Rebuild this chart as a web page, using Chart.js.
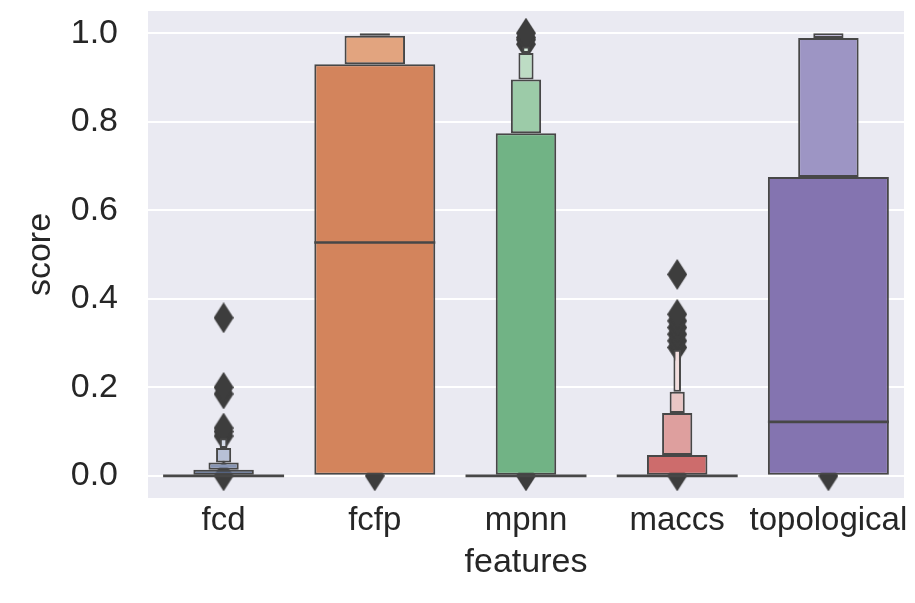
<!DOCTYPE html>
<html>
<head>
<meta charset="utf-8">
<script src="https://cdn.jsdelivr.net/npm/chart.js@4.4.1/dist/chart.umd.min.js"></script>
<style>
  html, body { margin: 0; padding: 0; background: #fff; }
  canvas { display: block; }
</style>
</head>
<body>
<canvas id="boxenChart" width="915" height="603"></canvas>
<script>
// values
var features = ['fcd', 'fcfp', 'mpnn', 'maccs', 'topological'];
var medians = [0, 0.527, 0, 0, 0.122];
var level1 = [null, [0, 0.93], null, null, [0, 0.675]];
var level2 = [[0, 0.014], [0.93, 0.994], [0, 0.774], [0, 0.047], [0.675, 0.989]];
var level3 = [[0.014, 0.03], [0.994, 1.0], [0.774, 0.895], [0.047, 0.142], [0.989, 1.0]];
var level4 = [[0.03, 0.063], null, [0.895, 0.955], [0.142, 0.19], null];
var level5 = [[0.063, 0.085], null, [0.955, 0.97], [0.19, 0.285], null];
var outliers = [
    [0, 0.09, 0.1, 0.108, 0.185, 0.2, 0.357],
    [0],
    [0, 0.975, 0.985, 0.99, 1.0],
    [0, 0.29, 0.305, 0.32, 0.335, 0.35, 0.365, 0.455],
    [0]
];
var yTicks = [0, 0.2, 0.4, 0.6, 0.8, 1.0];

// colours, darkest level first
var level1Colors = ['#5d6f95', '#d3845c', '#71b385', '#cd6c6c', '#8474b0'];
var level2Colors = ['#5d6f95', '#e2a47f', '#71b385', '#cd6c6c', '#9d95c4'];
var level3Colors = ['#8795b4', '#ebc0a6', '#9ccba8', '#de9f9e', '#bcb5d8'];
var level4Colors = ['#b7c0d6', '#f2d9ca', '#bddcc4', '#e9c6c5', '#d6d2e8'];
var level5Colors = ['#d5dbe8', '#f7e9e0', '#d6eadb', '#f2dede', '#e8e6f2'];
var edge = '#474747';
var font = 'Liberation Sans, Arial, sans-serif';

// thin diamond marker like matplotlib 'd'
var diamond = document.createElement('canvas');
diamond.width = 20;
diamond.height = 31;
var dc = diamond.getContext('2d');
dc.fillStyle = '#3d3d3d';
dc.beginPath();
dc.moveTo(10, 0);
dc.lineTo(20, 15.5);
dc.lineTo(10, 31);
dc.lineTo(0, 15.5);
dc.closePath();
dc.fill();

function levelSet(data, colors, width, order) {
    return {
        type: 'bar',
        data: data,
        backgroundColor: colors,
        borderColor: edge,
        borderWidth: 2,
        borderSkipped: false,
        barPercentage: width,
        categoryPercentage: 1,
        grouped: false,
        order: order
    };
}

var outlierPoints = [];
features.forEach(function(f, i) {
    outliers[i].forEach(function(v) {
        outlierPoints.push({ x: f, y: v });
    });
});

var plotBackground = {
    id: 'plotBackground',
    beforeDraw: function(chart) {
        var a = chart.chartArea;
        var c = chart.ctx;
        c.save();
        c.fillStyle = '#eaeaf2';
        c.fillRect(a.left, a.top, a.right - a.left, a.bottom - a.top);
        c.restore();
    }
};

var ctx = document.getElementById('boxenChart').getContext('2d');
var boxenChart = new Chart(ctx, {
    type: 'bar',
    data: {
        labels: features,
        datasets: [
            {
                type: 'scatter',
                data: outlierPoints,
                pointStyle: diamond,
                pointRadius: 10,
                order: 10
            },
            levelSet(level1, level1Colors, 0.8, 6),
            levelSet(level2, level2Colors, 0.4, 5),
            levelSet(level3, level3Colors, 0.2, 4),
            levelSet(level4, level4Colors, 0.1, 3),
            levelSet(level5, level5Colors, 0.05, 2),
            {
                type: 'bar',
                data: medians.map(function(m) { return [m - 0.003, m + 0.003]; }),
                backgroundColor: edge,
                borderWidth: 0,
                barPercentage: 0.8,
                categoryPercentage: 1,
                grouped: false,
                order: 0
            }
        ]
    },
    options: {
        responsive: false,
        animation: false,
        layout: { padding: { top: 11, right: 10, left: 0, bottom: 0 } },
        plugins: {
            legend: { display: false },
            tooltip: { enabled: false }
        },
        scales: {
            x: {
                type: 'category',
                offset: true,
                grid: { display: false, drawTicks: false },
                border: { display: false },
                ticks: {
                    color: '#262626',
                    padding: 3,
                    autoSkip: false,
                    maxRotation: 0,
                    font: { family: font, size: 33 }
                },
                title: {
                    display: true,
                    text: 'features',
                    color: '#262626',
                    padding: { top: 0, bottom: 20 },
                    font: { family: font, size: 34 }
                },
                afterFit: function(scale) {
                    scale.height = 105;
                    scale.paddingLeft = 0;
                    scale.paddingRight = 0;
                }
            },
            y: {
                min: -0.05,
                max: 1.05,
                grid: { color: '#ffffff', lineWidth: 2, drawTicks: false },
                border: { display: false },
                afterBuildTicks: function(scale) {
                    scale.ticks = yTicks.map(function(v) { return { value: v }; });
                },
                ticks: {
                    color: '#262626',
                    padding: 30,
                    font: { family: font, size: 34 },
                    callback: function(v) { return Number(v).toFixed(1); }
                },
                title: {
                    display: true,
                    text: 'score',
                    color: '#262626',
                    padding: { top: 20, bottom: 0 },
                    font: { family: font, size: 34 }
                },
                afterFit: function(scale) {
                    scale.width = 148;
                    scale.paddingTop = 0;
                    scale.paddingBottom = 0;
                }
            }
        }
    },
    plugins: [plotBackground]
});
</script>
</body>
</html>
